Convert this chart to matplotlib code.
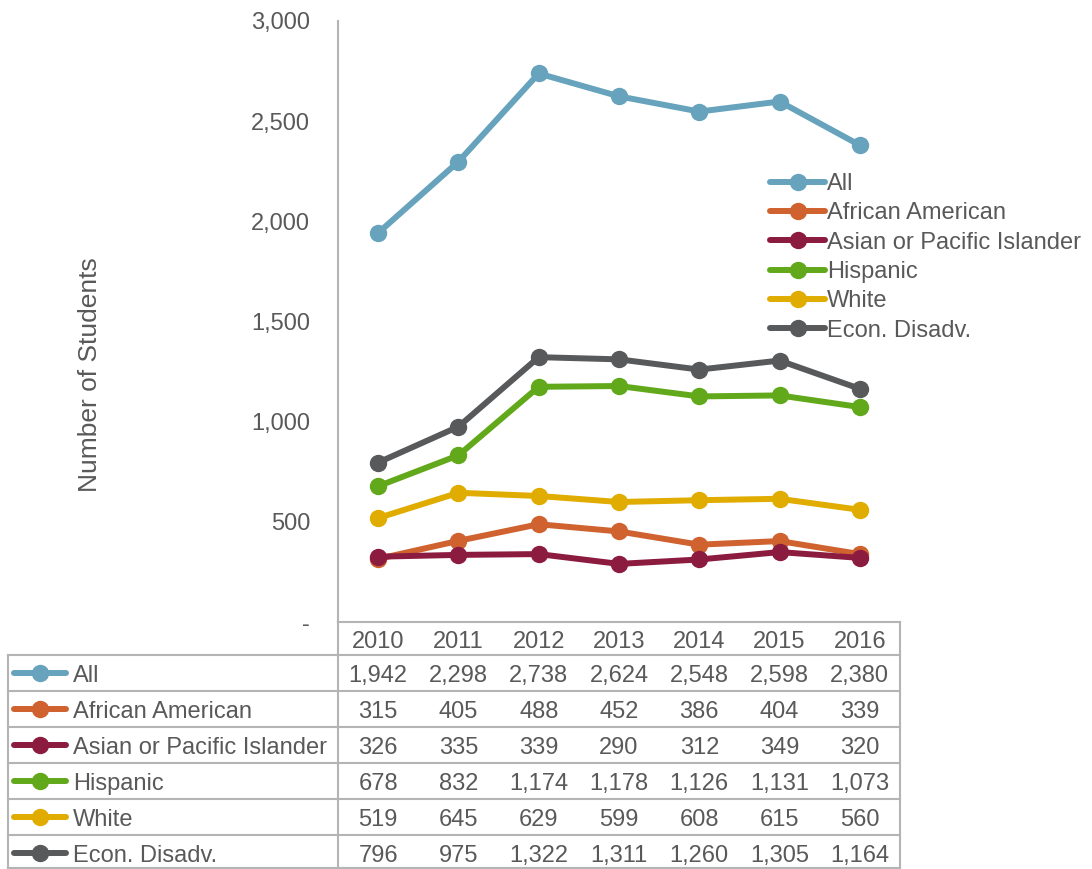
import matplotlib
matplotlib.use('Agg')
import matplotlib.pyplot as plt
import matplotlib.transforms as mtransforms
from matplotlib.lines import Line2D
from matplotlib.ticker import FuncFormatter

plt.rcParams.update({
    'font.family': ['Liberation Sans', 'DejaVu Sans'],
    'text.color': '#595959',
    'axes.labelcolor': '#595959',
    'ytick.color': '#595959',
})

# data
years = ['2010', '2011', '2012', '2013', '2014', '2015', '2016']
groups = ['All', 'African American', 'Asian or Pacific Islander',
          'Hispanic', 'White', 'Econ. Disadv.']
all_students = [1942, 2298, 2738, 2624, 2548, 2598, 2380]
african_american = [315, 405, 488, 452, 386, 404, 339]
asian_pacific = [326, 335, 339, 290, 312, 349, 320]
hispanic = [678, 832, 1174, 1178, 1126, 1131, 1073]
white = [519, 645, 629, 599, 608, 615, 560]
econ_disadv = [796, 975, 1322, 1311, 1260, 1305, 1164]
colors = ['#67A3BC', '#CF622F', '#8C1B40', '#62A81B', '#E0AC00', '#58595B']

series = [all_students, african_american, asian_pacific, hispanic, white, econ_disadv]

W, H = 1092, 869
GRID = '#B4B4B4'
FS = 17


def fx(px):
    return px / W


def fy(py):
    return 1 - py / H


fig = plt.figure(figsize=(W / 100, H / 100), dpi=100, facecolor='white')
ax = fig.add_axes([fx(338), fy(622), fx(900) - fx(338), fy(21) - fy(622)])
ax.set_xlim(-0.5, len(years) - 0.5)
ax.set_ylim(0, 3000)

x = list(range(len(years)))
for name, vals, c in zip(groups, series, colors):
    ax.plot(x, vals, color=c, lw=4.3, marker='o', ms=11.5,
            solid_capstyle='round', label=name)

for s in ['top', 'right', 'bottom']:
    ax.spines[s].set_visible(False)
ax.spines['left'].set_color(GRID)
ax.spines['left'].set_linewidth(1.5)
ax.set_xticks([])
ax.set_yticks(range(0, 3001, 500))
ax.yaxis.set_major_formatter(FuncFormatter(lambda v, p: '-' if v == 0 else f'{v:,.0f}'))
ax.tick_params(axis='y', length=0, pad=20, labelsize=FS)

fig.text(fx(90), fy(375), 'Number of Students', rotation=90,
         ha='center', va='center', fontsize=19)

ax.legend(loc='upper left', bbox_to_anchor=(fx(770), fy(173)),
          bbox_transform=fig.transFigure, frameon=False, fontsize=FS,
          handlelength=2.35, handletextpad=0.05, labelspacing=0.31,
          borderpad=0, borderaxespad=0)

# data table under the chart
tr = mtransforms.blended_transform_factory(ax.transData, fig.transFigure)
header_y = 642
row_top = 655
row_h = 36
for i, yr in enumerate(years):
    fig.text(i, fy(header_y), yr, transform=tr, ha='center', va='center', fontsize=FS)

for r, (name, vals, c) in enumerate(zip(groups, series, colors)):
    yc = fy(row_top + row_h * r + row_h / 2)
    yt = fy(row_top + row_h * r + row_h / 2 + 3)
    fig.add_artist(Line2D([fx(14), fx(66)], [yc, yc], transform=fig.transFigure,
                          color=c, lw=4.3, solid_capstyle='round'))
    fig.add_artist(Line2D([fx(40)], [yc], transform=fig.transFigure,
                          color=c, marker='o', ms=11.5))
    fig.text(fx(73), yt, name, ha='left', va='center', fontsize=FS)
    for i, v in enumerate(vals):
        fig.text(i, yt, f'{v:,}', transform=tr, ha='center', va='center', fontsize=FS)


def hline(y, x0, x1):
    fig.add_artist(Line2D([fx(x0), fx(x1)], [fy(y), fy(y)],
                          transform=fig.transFigure, color=GRID, lw=1.5))


def vline(x0, y0, y1):
    fig.add_artist(Line2D([fx(x0), fx(x0)], [fy(y0), fy(y1)],
                          transform=fig.transFigure, color=GRID, lw=1.5))


bottom = row_top + row_h * len(groups) - 3
hline(622, 338, 900)
for r in range(len(groups)):
    hline(row_top + row_h * r, 8, 900)
hline(bottom, 8, 900)
vline(8, row_top, bottom)
vline(338, 622, bottom)
vline(900, 622, bottom)

fig.savefig('out.png', dpi=100, facecolor='white')
